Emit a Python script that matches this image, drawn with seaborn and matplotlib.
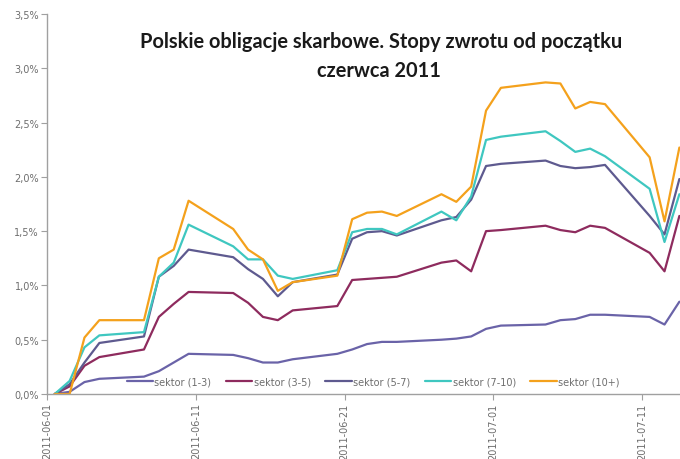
import matplotlib
matplotlib.use("Agg")
import matplotlib.pyplot as plt
import matplotlib.dates as mdates
import pandas as pd
import seaborn as sns
from matplotlib.lines import Line2D

# Notowania (dni sesyjne) od początku czerwca 2011
dates = [
    "2011-06-01", "2011-06-02", "2011-06-03", "2011-06-04", "2011-06-07",
    "2011-06-08", "2011-06-09", "2011-06-10", "2011-06-13", "2011-06-14",
    "2011-06-15", "2011-06-16", "2011-06-17", "2011-06-20", "2011-06-21",
    "2011-06-22", "2011-06-23", "2011-06-24", "2011-06-27", "2011-06-28",
    "2011-06-29", "2011-06-30", "2011-07-01", "2011-07-04", "2011-07-05",
    "2011-07-06", "2011-07-07", "2011-07-08", "2011-07-11", "2011-07-12",
    "2011-07-13",
]

# Skumulowane stopy zwrotu w %
sektor_1_3 = [0.00, 0.02, 0.11, 0.14, 0.16, 0.21, 0.29, 0.37, 0.36, 0.33,
              0.29, 0.29, 0.32, 0.37, 0.41, 0.46, 0.48, 0.48, 0.50, 0.51,
              0.53, 0.60, 0.63, 0.64, 0.68, 0.69, 0.73, 0.73, 0.71, 0.64,
              0.85]
sektor_3_5 = [0.00, 0.07, 0.26, 0.34, 0.41, 0.71, 0.83, 0.94, 0.93, 0.84,
              0.71, 0.68, 0.77, 0.81, 1.05, 1.06, 1.07, 1.08, 1.21, 1.23,
              1.13, 1.50, 1.51, 1.55, 1.51, 1.49, 1.55, 1.53, 1.30, 1.13,
              1.64]
sektor_5_7 = [0.00, 0.09, 0.29, 0.47, 0.53, 1.08, 1.18, 1.33, 1.26, 1.15,
              1.06, 0.90, 1.03, 1.10, 1.43, 1.49, 1.50, 1.46, 1.60, 1.63,
              1.79, 2.10, 2.12, 2.15, 2.10, 2.08, 2.09, 2.11, 1.64, 1.47,
              1.98]
sektor_7_10 = [0.00, 0.12, 0.43, 0.54, 0.57, 1.08, 1.21, 1.56, 1.36, 1.24,
               1.24, 1.09, 1.06, 1.14, 1.49, 1.52, 1.52, 1.47, 1.68, 1.60,
               1.82, 2.34, 2.37, 2.42, 2.33, 2.23, 2.26, 2.19, 1.89, 1.40,
               1.84]
sektor_10 = [0.00, 0.00, 0.52, 0.68, 0.68, 1.25, 1.33, 1.78, 1.52, 1.33,
             1.24, 0.95, 1.03, 1.09, 1.61, 1.67, 1.68, 1.64, 1.84, 1.77,
             1.91, 2.61, 2.82, 2.87, 2.86, 2.63, 2.69, 2.67, 2.18, 1.59,
             2.27]

series_names = ["sektor (1-3)", "sektor (3-5)", "sektor (5-7)",
                "sektor (7-10)", "sektor (10+)"]
series_values = [sektor_1_3, sektor_3_5, sektor_5_7, sektor_7_10, sektor_10]
colors = ["#6a63a8", "#8e2b5e", "#5e5a8f", "#3fc7c0", "#f4a11c"]

tick_dates = ["2011-06-01", "2011-06-11", "2011-06-21", "2011-07-01", "2011-07-11"]
y_ticks = [0.0, 0.5, 1.0, 1.5, 2.0, 2.5, 3.0, 3.5]

title_line1 = "Polskie obligacje skarbowe. Stopy zwrotu od początku"
title_line2 = "czerwca 2011"

sns.set_theme(style="white")
plt.rcParams["font.family"] = ["DejaVu Sans"]

frames = []
for name, vals in zip(series_names, series_values):
    frames.append(pd.DataFrame({"data": pd.to_datetime(dates),
                                "stopa": vals, "sektor": name}))
long_df = pd.concat(frames, ignore_index=True)

W, H = 680, 460
fig = plt.figure(figsize=(W / 100, H / 100), dpi=100)
fig.patch.set_facecolor("white")
ax = fig.add_axes([47.3 / W, 65 / H, (W - 47.3) / W, 380 / H])

sns.lineplot(data=long_df, x="data", y="stopa", hue="sektor",
             hue_order=series_names, palette=colors, linewidth=1.6,
             ax=ax, legend=False)

# Oś czasu: punkty w środku dnia, podziałka na początku dnia
half_day = pd.Timedelta(hours=12)
ax.set_xlim(pd.Timestamp("2011-06-01") - half_day,
            pd.Timestamp("2011-07-13") + pd.Timedelta(hours=1))
ax.set_xticks([mdates.date2num(pd.Timestamp(d) - half_day) for d in tick_dates])
ax.set_xticklabels(tick_dates, rotation=90)

ax.set_ylim(0, 3.5)
ax.set_yticks(y_ticks)
ax.set_yticklabels([f"{v:.1f}%".replace(".", ",") for v in y_ticks])

ax.set_xlabel("")
ax.set_ylabel("")
for side in ("top", "right"):
    ax.spines[side].set_visible(False)
for side in ("left", "bottom"):
    ax.spines[side].set_color("#a0a0a0")
    ax.spines[side].set_linewidth(1.0)
ax.tick_params(axis="both", which="major", direction="out", length=4,
               width=0.8, color="#a0a0a0", labelsize=7, labelcolor="#6e6e6e",
               pad=2, bottom=True, left=True)

handles = [Line2D([], [], color=c, lw=1.6) for c in colors]
leg = ax.legend(handles, series_names, loc="center",
                bbox_to_anchor=(0.515, 0.032), ncol=5, frameon=False,
                fontsize=7, handlelength=2.7, handletextpad=0.15,
                columnspacing=1.5, borderaxespad=0)
for t in leg.get_texts():
    t.set_color("#6e6e6e")

fig.text(381 / W, 1 - 42 / H, title_line1, ha="center", va="center",
         fontsize=14.4, fontweight="bold", color="#1a1a1a",
         family=["Lato", "DejaVu Sans"])
fig.text(379 / W, 1 - 71 / H, title_line2, ha="center", va="center",
         fontsize=14.4, fontweight="bold", color="#1a1a1a",
         family=["Lato", "DejaVu Sans"])

fig.savefig("out.png", dpi=100)
